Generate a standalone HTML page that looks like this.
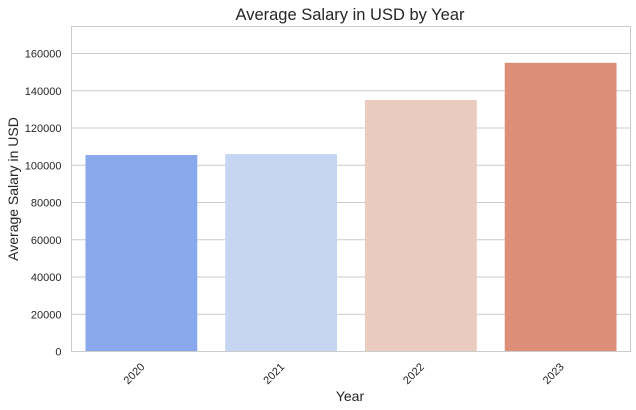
<!DOCTYPE html>
<html><head><meta charset="utf-8">
<style>
html,body{margin:0;padding:0;background:#fff;}
svg{display:block;font-family:"Liberation Sans",sans-serif;}
</style></head>
<body>
<svg id="chart" width="636" height="410" viewBox="0 0 636 410" xmlns="http://www.w3.org/2000/svg">
<rect x="0" y="0" width="636" height="410" fill="#fff"/>
<g id="grid"></g>
<g id="bars"></g>
<rect x="71.5" y="26.5" width="559" height="325" fill="none" stroke="#ccc" stroke-width="1"/>
<g id="yticks"></g>
<g id="xticks"></g>
<text x="350" y="20" text-anchor="middle" font-size="16.5" fill="#262626">Average Salary in USD by Year</text>
<text x="350" y="401" text-anchor="middle" font-size="14" fill="#262626">Year</text>
<text transform="translate(18,189) rotate(-90)" text-anchor="middle" font-size="14" fill="#262626">Average Salary in USD</text>
</svg>
<script>
const categories = ["2020","2021","2022","2023"];
const salaries = [105500, 106000, 135000, 155000];
const yTickValues = [0,20000,40000,60000,80000,100000,120000,140000,160000];
const barColors = ["#8aa8ec","#c6d5f1","#eaccbf","#dd8e77"];

const NS="http://www.w3.org/2000/svg";
const L=71.5,R=630.5,T=26.5,B=351.5,YMAX=174500;
const y=v=>B-(v/YMAX)*(B-T);
const band=(R-L)/categories.length;
const x=i=>L+band*i;
const grid=document.getElementById('grid'),bars=document.getElementById('bars'),yt=document.getElementById('yticks'),xt=document.getElementById('xticks');
yTickValues.forEach(v=>{
  const l=document.createElementNS(NS,'line');
  
  
  l.setAttribute('x1',L);l.setAttribute('x2',R);
  l.setAttribute('y1',y(v));l.setAttribute('y2',y(v));
  l.setAttribute('stroke','#ccc');l.setAttribute('stroke-width','1');
  grid.appendChild(l);
  const t=document.createElementNS(NS,'text');
  
  
  t.setAttribute('x',L-10);t.setAttribute('y',y(v)+4);
  t.setAttribute('text-anchor','end');t.setAttribute('font-size','11');t.setAttribute('fill','#262626');
  t.textContent=String(v);
  yt.appendChild(t);
});
categories.forEach((c,i)=>{
  const w=band*0.8;
  const r=document.createElementNS(NS,'rect');
  
  
  r.setAttribute('x',x(i)+band*0.1);r.setAttribute('width',w);
  r.setAttribute('y',y(salaries[i]));r.setAttribute('height',B-y(salaries[i]));
  r.setAttribute('fill',barColors[i]);
  bars.appendChild(r);
  const cx=x(i)+band/2;
  const t=document.createElementNS(NS,'text');
  
  
  t.setAttribute('transform','translate('+(cx+4)+','+(B+16)+') rotate(-45)');
  t.setAttribute('text-anchor','end');t.setAttribute('font-size','11');t.setAttribute('fill','#262626');
  t.textContent=c;
  xt.appendChild(t);
});
</script>
</body></html>
